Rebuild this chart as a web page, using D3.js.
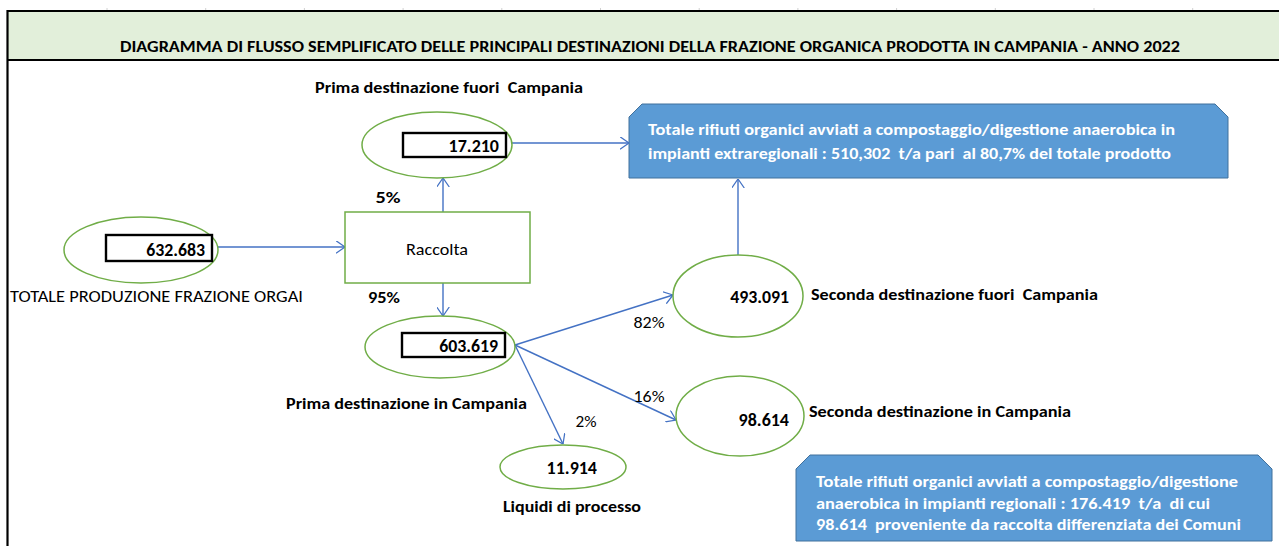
<!DOCTYPE html>
<html><head><meta charset="utf-8">
<script src="https://cdn.jsdelivr.net/npm/d3@7"></script>
<style>
html,body{margin:0;padding:0;background:#fff;}
svg{display:block;}
text{font-family:Carlito,"Liberation Sans Narrow","Liberation Sans",sans-serif;white-space:pre;}
</style></head>
<body>
<svg id="chart" width="1279" height="546"></svg>
<script>
// ---- data ----
const chartTitle = "DIAGRAMMA DI FLUSSO SEMPLIFICATO DELLE PRINCIPALI DESTINAZIONI DELLA FRAZIONE ORGANICA PRODOTTA IN CAMPANIA - ANNO 2022";
const nodeIds    = ["totale", "fuori1", "campania1", "fuori2", "campania2", "liquidi"];
const nodeValues = ["632.683", "17.210", "603.619", "493.091", "98.614", "11.914"];
const nodeLabels = ["TOTALE PRODUZIONE FRAZIONE ORGAI", "Prima destinazione fuori  Campania", "Prima destinazione in Campania",
                    "Seconda destinazione fuori  Campania", "Seconda destinazione in Campania", "Liquidi di processo"];
const flowPercents = ["5%", "95%", "82%", "16%", "2%"];
const processLabel = "Raccolta";
const extraRegionText = ["Totale rifiuti organici avviati a compostaggio/digestione anaerobica in",
                         "impianti extraregionali : 510,302  t/a pari  al 80,7% del totale prodotto"];
const regionText = ["Totale rifiuti organici avviati a compostaggio/digestione",
                    "anaerobica in impianti regionali : 176.419  t/a  di cui",
                    "98.614  proveniente da raccolta differenziata dei Comuni"];

// ---- layout (positions / styles) ----
const W = 1279, H = 546;
const svg = d3.select("#chart");
const GREEN = "#70AD47", BLUE = "#4472C4", BOXBLUE = "#5B9BD5";

const ell = {
  totale:    {cx:141, cy:250, rx:77, ry:33, box:[106,235,106,26], tx:205, ty:256},
  fuori1:    {cx:437, cy:145, rx:75, ry:33, box:[403,133,103,24], tx:499, ty:152},
  campania1: {cx:440, cy:347, rx:75, ry:31, box:[402,333,103,24], tx:498, ty:352},
  fuori2:    {cx:738, cy:296, rx:65, ry:41, tx:789, ty:303},
  campania2: {cx:740, cy:416, rx:64, ry:40, tx:789, ty:426},
  liquidi:   {cx:563, cy:467, rx:63, ry:22, tx:597, ty:474}
};
const lab = {
  totale:    {x:10,  y:302, w:293, bold:false},
  fuori1:    {x:315, y:93,  w:268, bold:true},
  campania1: {x:286, y:409, w:241, bold:true},
  fuori2:    {x:811, y:300, w:287, bold:true},
  campania2: {x:809, y:417, w:262, bold:true},
  liquidi:   {x:503, y:512, w:138, bold:true}
};

// frame
svg.append("rect").attr("x",8).attr("y",11).attr("width",W-8).attr("height",49).attr("fill","#E2EFDA");
svg.append("line").attr("x1",7).attr("x2",W).attr("y1",11).attr("y2",11).attr("stroke","#000").attr("stroke-width",2);
svg.append("line").attr("x1",7).attr("x2",W).attr("y1",60).attr("y2",60).attr("stroke","#000").attr("stroke-width",2.2);
svg.append("line").attr("x1",7.5).attr("x2",7.5).attr("y1",10).attr("y2",H).attr("stroke","#000").attr("stroke-width",2.2);
const colTicks = d3.range(12);
svg.selectAll(".ctick").data(colTicks).enter().append("line")
  .attr("x1",(d,i)=>107+i*98.7).attr("x2",(d,i)=>107+i*98.7)
  .attr("y1",8).attr("y2",10).attr("stroke","#d0d0d0").attr("stroke-width",1);

svg.append("text").attr("x",650).attr("y",52).attr("text-anchor","middle")
  .attr("font-size",15).attr("font-weight","bold").attr("fill","#000")
  .attr("textLength",1060).attr("lengthAdjust","spacingAndGlyphs").text(chartTitle);

const defs = svg.append("defs");
defs.append("marker").attr("id","arr").attr("viewBox","0 0 10 14")
  .attr("refX",10).attr("refY",7).attr("markerWidth",9).attr("markerHeight",13)
  .attr("markerUnits","userSpaceOnUse").attr("orient","auto")
  .append("path").attr("d","M0,0 L10,7 L0,14").attr("fill","none").attr("stroke",BLUE).attr("stroke-width",1.4);

function cutBox(x0,y0,x1,y1,c){
  return `M${x0},${y0+c} L${x0+c},${y0} L${x1-c},${y0} L${x1},${y0+c} L${x1},${y1} L${x0},${y1} Z`;
}
svg.append("path").attr("d",cutBox(629,104,1228,178,13)).attr("fill",BOXBLUE).attr("stroke","#41719C").attr("stroke-width",1);
svg.append("path").attr("d",cutBox(796,455,1272,541,14)).attr("fill",BOXBLUE).attr("stroke","#41719C").attr("stroke-width",1);
const extraW = [527, 523];
svg.selectAll(".tb1").data(extraRegionText).enter().append("text")
  .attr("x",648).attr("y",(d,i)=>135+i*24).attr("font-size",16.5).attr("font-weight","bold").attr("fill","#fff")
  .attr("textLength",(d,i)=>extraW[i]).attr("lengthAdjust","spacingAndGlyphs").text(d=>d);
const regW = [422, 394, 425];
svg.selectAll(".tb2").data(regionText).enter().append("text")
  .attr("x",816).attr("y",(d,i)=>487+i*21.5).attr("font-size",16.5).attr("font-weight","bold").attr("fill","#fff")
  .attr("textLength",(d,i)=>regW[i]).attr("lengthAdjust","spacingAndGlyphs").text(d=>d);

const arrows = [
  [218,247,345,247],
  [443,212,443,178],
  [443,283,443,316],
  [512,143,629,143],
  [515,345,673,295],
  [515,345,676,420],
  [515,345,563,444],
  [738,255,738,179]
];
svg.selectAll(".arrow").data(arrows).enter().append("line")
  .attr("x1",d=>d[0]).attr("y1",d=>d[1]).attr("x2",d=>d[2]).attr("y2",d=>d[3])
  .attr("stroke",BLUE).attr("stroke-width",1.4).attr("marker-end","url(#arr)");

svg.append("rect").attr("x",345).attr("y",212).attr("width",185).attr("height",71)
  .attr("fill","#fff").attr("stroke",GREEN).attr("stroke-width",1.5);
svg.append("text").attr("x",437).attr("y",255).attr("text-anchor","middle").attr("font-size",17)
  .attr("textLength",62).attr("lengthAdjust","spacingAndGlyphs").text(processLabel);

nodeIds.forEach((id,i)=>{
  const e = ell[id];
  svg.append("ellipse").attr("cx",e.cx).attr("cy",e.cy).attr("rx",e.rx).attr("ry",e.ry)
    .attr("fill","#fff").attr("stroke",GREEN).attr("stroke-width",1.5);
  if(e.box){
    svg.append("rect").attr("x",e.box[0]).attr("y",e.box[1]).attr("width",e.box[2]).attr("height",e.box[3])
      .attr("fill","#fff").attr("stroke","#000").attr("stroke-width",2.4);
  }
  svg.append("text").attr("x",e.tx).attr("y",e.ty).attr("text-anchor","end")
    .attr("font-size",18).attr("font-weight","bold").attr("fill","#000")
    .attr("textLength", nodeValues[i].length*8.4).attr("lengthAdjust","spacingAndGlyphs").text(nodeValues[i]);
  const l = lab[id];
  svg.append("text").attr("x",l.x).attr("y",l.y).attr("font-size",l.bold?16.5:17)
    .attr("font-weight",l.bold?"bold":"normal").attr("fill","#000")
    .attr("textLength",l.w).attr("lengthAdjust","spacingAndGlyphs").text(nodeLabels[i]);
});

const pctPos = [
  {x:388,y:203,bold:true, w:25},
  {x:384,y:303,bold:true, w:32},
  {x:649,y:328,bold:false,w:31},
  {x:649,y:402,bold:false,w:31},
  {x:586,y:427,bold:false,w:21}
];
svg.selectAll(".pct").data(flowPercents).enter().append("text")
  .attr("x",(d,i)=>pctPos[i].x).attr("y",(d,i)=>pctPos[i].y).attr("text-anchor","middle")
  .attr("font-size",16.5).attr("font-weight",(d,i)=>pctPos[i].bold?"bold":"normal").attr("fill","#000")
  .attr("textLength",(d,i)=>pctPos[i].w).attr("lengthAdjust","spacingAndGlyphs")
  .text(d=>d);
</script>
</body></html>
